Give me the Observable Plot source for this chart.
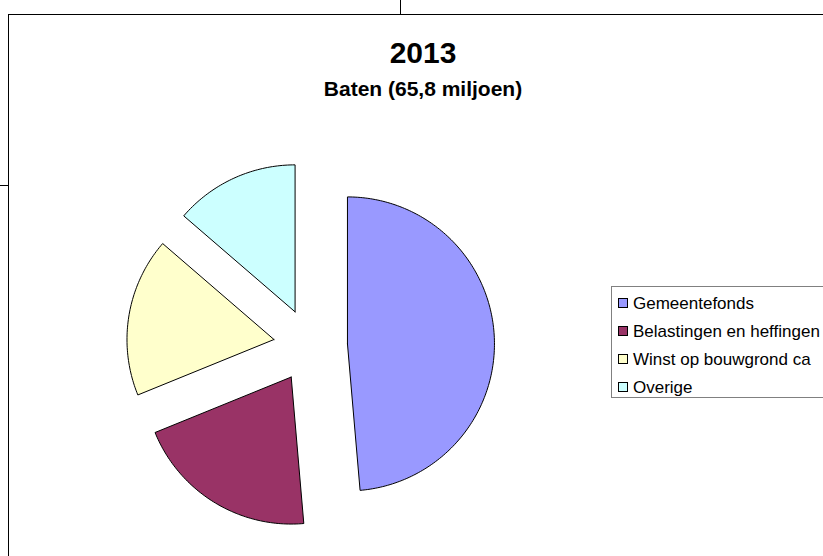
<!DOCTYPE html>
<html><head><meta charset="utf-8">
<script src="https://cdn.jsdelivr.net/npm/d3@7"></script>
<script src="https://cdn.jsdelivr.net/npm/@observablehq/plot@0.6"></script>
<style>
body{margin:0;background:#fff;font-family:"Liberation Sans",Arial,sans-serif;}
#wrap{position:relative;width:823px;height:556px;overflow:hidden;background:#fff;}
.ln{position:absolute;background:#000;}
#frame{position:absolute;left:8px;top:14px;width:900px;height:700px;border:1px solid #000;box-sizing:border-box;}
#title{position:absolute;left:0;width:846px;top:38px;text-align:center;font-weight:bold;font-size:30px;line-height:30px;white-space:nowrap;}
#subtitle{position:absolute;left:0;width:846px;top:78px;text-align:center;font-weight:bold;font-size:21px;line-height:21px;white-space:nowrap;}
#pie{position:absolute;left:110px;top:145px;}
#legend{position:absolute;left:611px;top:286px;width:300px;height:112px;border:1px solid #808080;box-sizing:border-box;}
.item{position:absolute;left:6px;font-size:17px;line-height:17px;white-space:nowrap;}
.sw{position:absolute;width:10px;height:10px;border:1px solid #000;box-sizing:border-box;}
</style></head>
<body>
<div id="wrap">
  <div class="ln" style="left:400px;top:0;width:1px;height:15px"></div>
  <div class="ln" style="left:0;top:185px;width:9px;height:1px"></div>
  <div id="frame"></div>
  <div id="title"></div>
  <div id="subtitle"></div>
  <div id="pie"></div>
  <div id="legend"></div>
</div>
<script>
const year = "2013";
const subtitleText = "Baten (65,8 miljoen)";
const categories = ["Gemeentefonds", "Belastingen en heffingen", "Winst op bouwgrond ca", "Overige"];
const values = [32.0, 13.3, 11.5, 9.0];
const colors = ["#9999FF", "#993366", "#FFFFCC", "#CCFFFF"];

document.getElementById("title").textContent = year;
document.getElementById("subtitle").textContent = subtitleText;

const R = 147;           // radius in px
const explode = 37 / R;  // explosion distance in radius units
const half = 200 / R;

const arcs = d3.pie().sort(null).startAngle(0).endAngle(2 * Math.PI)(values);
const pts = [];
arcs.forEach((a, i) => {
  const mid = (a.startAngle + a.endAngle) / 2;
  const ox = explode * Math.sin(mid), oy = explode * Math.cos(mid);
  const n = Math.max(2, Math.ceil((a.endAngle - a.startAngle) / (Math.PI / 180)));
  pts.push({cat: categories[i], x: ox, y: oy});
  for (let k = 0; k <= n; k++) {
    const t = a.startAngle + (a.endAngle - a.startAngle) * k / n;
    pts.push({cat: categories[i], x: ox + Math.sin(t), y: oy + Math.cos(t)});
  }
  pts.push({cat: categories[i], x: ox, y: oy});
});

const chart = Plot.plot({
  width: 400, height: 400,
  margin: 0,
  x: {domain: [-half, half], axis: null},
  y: {domain: [-half, half], axis: null},
  color: {domain: categories, range: colors},
  marks: [
    Plot.line(pts, {x: "x", y: "y", z: "cat", fill: "cat", stroke: "#000", strokeWidth: 1, curve: "linear", strokeLinejoin: "miter"})
  ]
});
document.getElementById("pie").appendChild(chart);

const legend = document.getElementById("legend");
categories.forEach((c, i) => {
  const rowTop = 8 + i * 28;
  const sw = document.createElement("div");
  sw.className = "sw";
  sw.style.left = "6px";
  sw.style.top = (rowTop + 3) + "px";
  sw.style.background = colors[i];
  legend.appendChild(sw);
  const t = document.createElement("div");
  t.className = "item";
  t.style.left = "21px";
  t.style.top = rowTop + "px";
  t.textContent = c;
  legend.appendChild(t);
});
</script>
</body></html>
